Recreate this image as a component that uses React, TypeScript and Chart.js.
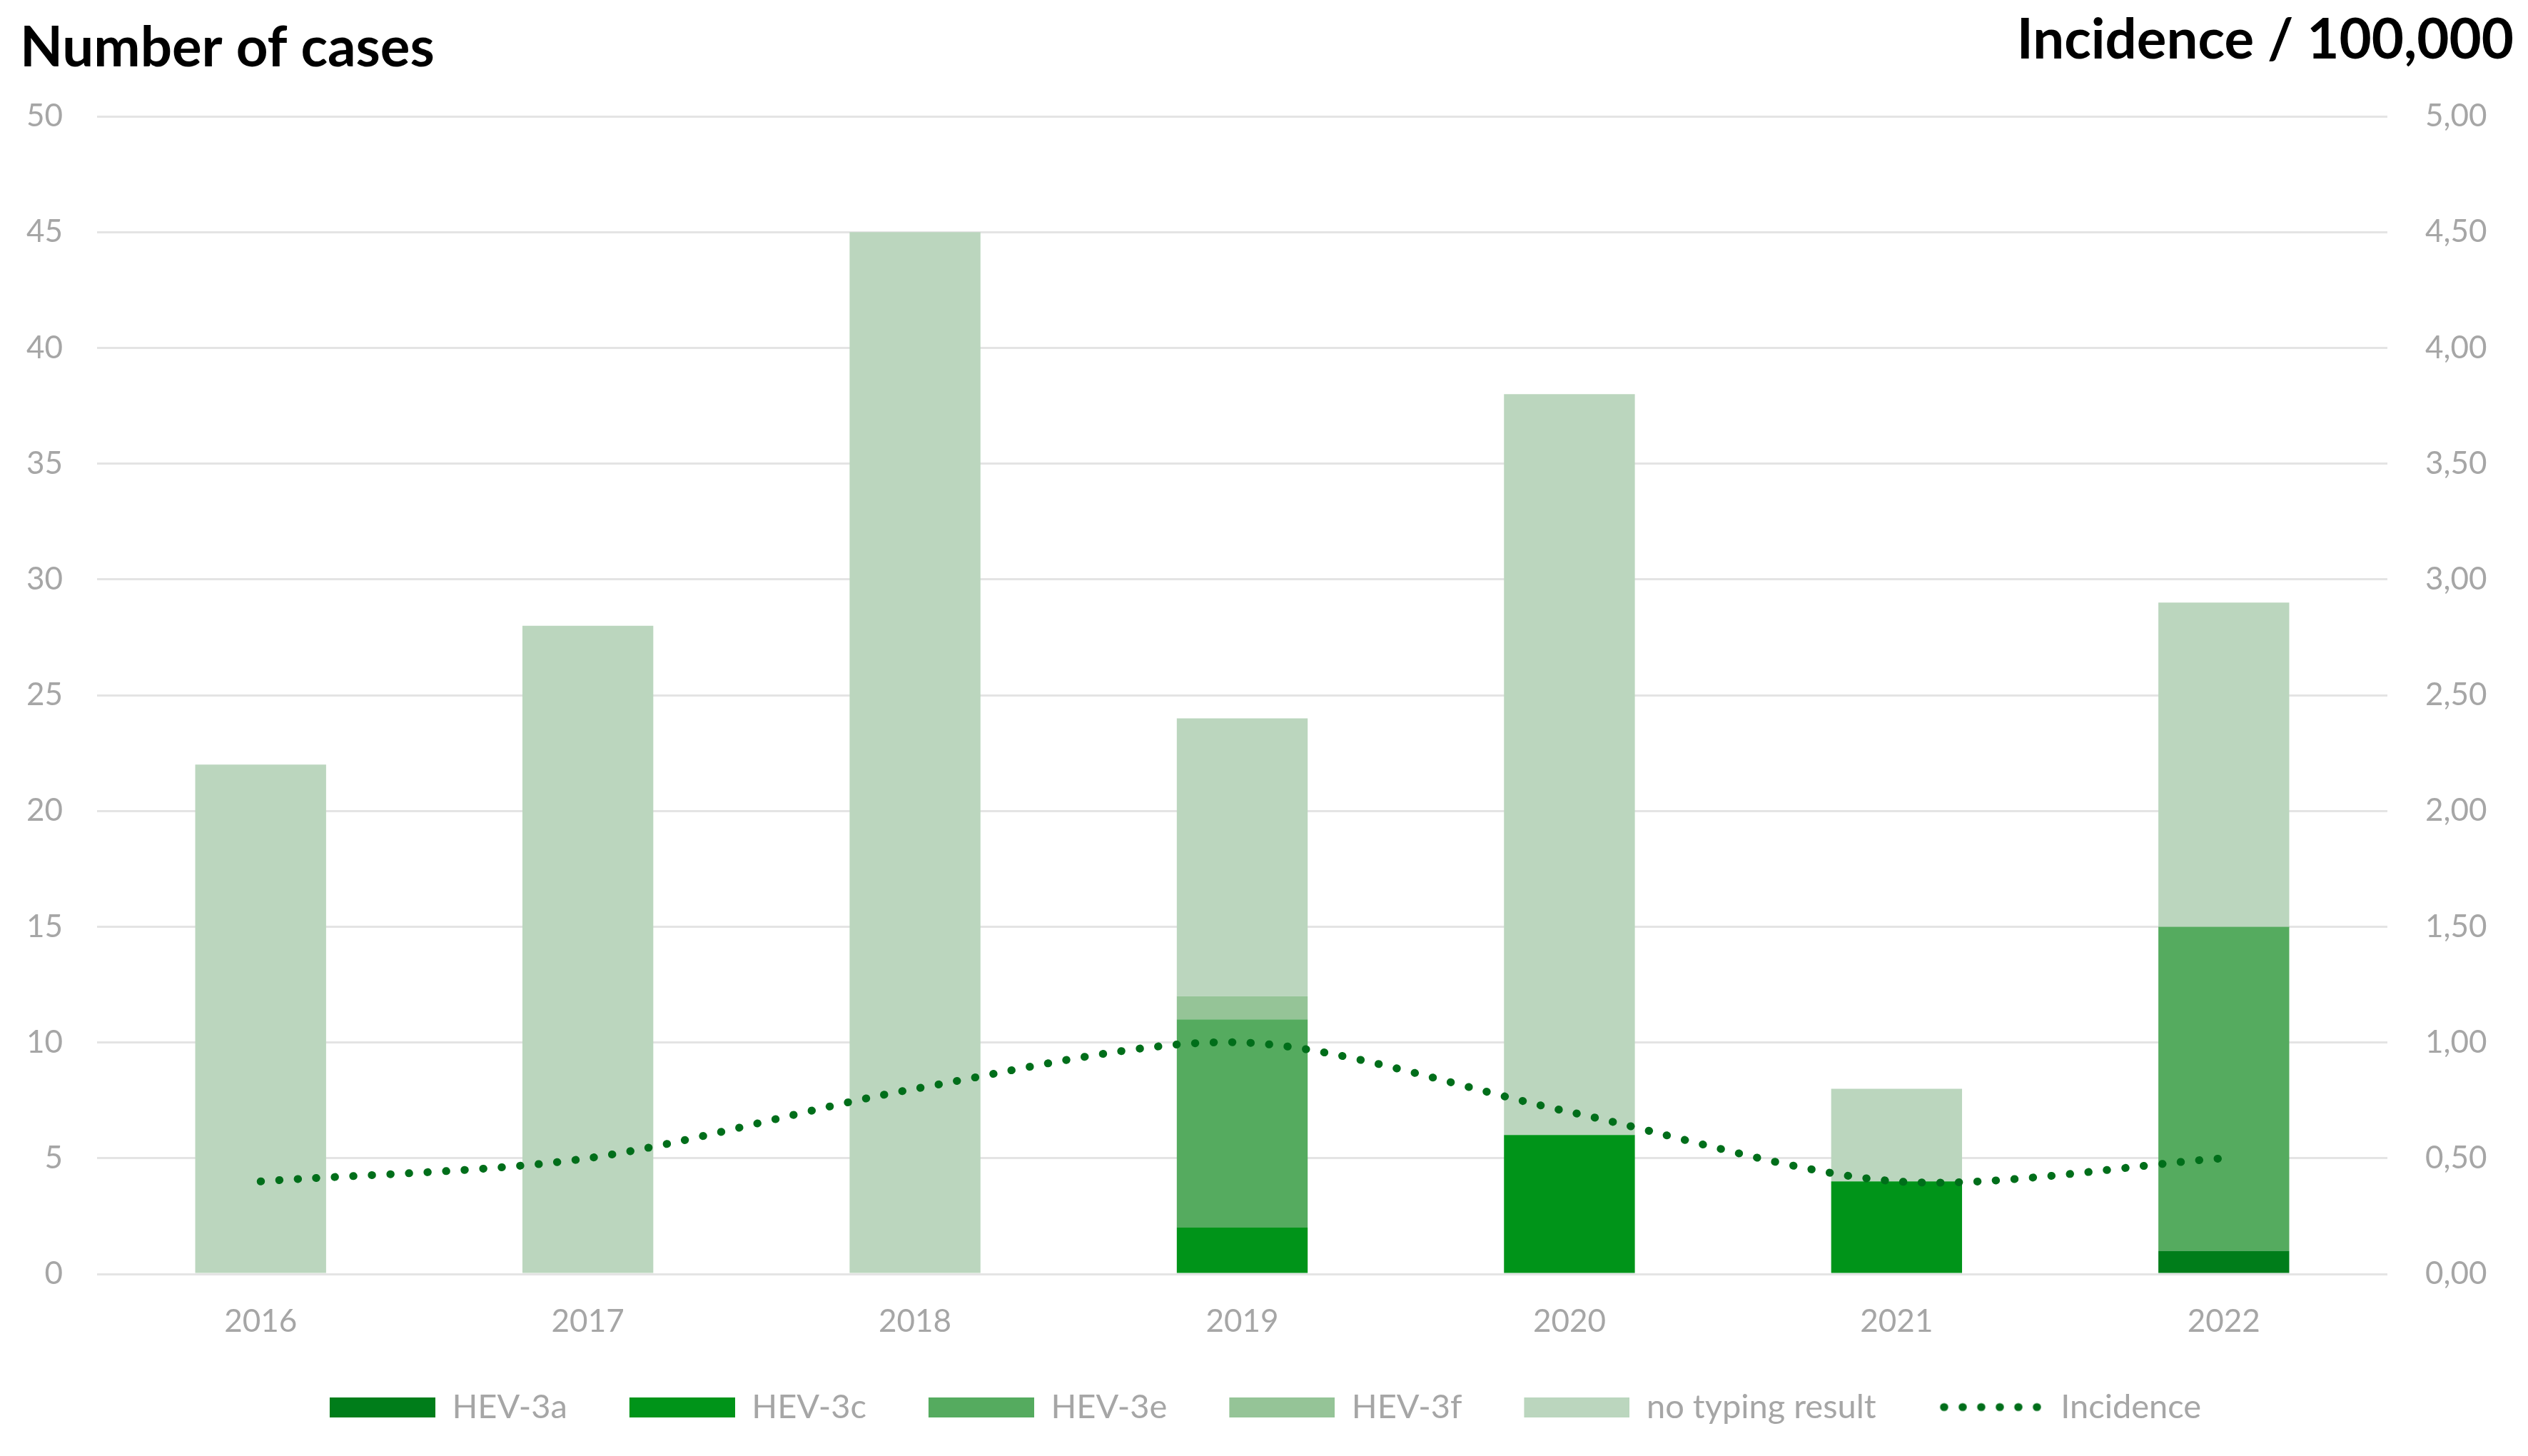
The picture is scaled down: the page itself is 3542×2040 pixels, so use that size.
import { useEffect, useRef } from 'react';
import { Chart, registerables } from 'chart.js';

Chart.register(...registerables);

const years = ['2016', '2017', '2018', '2019', '2020', '2021', '2022'];
const hev3a = [0, 0, 0, 0, 0, 0, 1];
const hev3c = [0, 0, 0, 2, 6, 4, 0];
const hev3e = [0, 0, 0, 9, 0, 0, 14];
const hev3f = [0, 0, 0, 1, 0, 0, 0];
const noTyping = [22, 28, 45, 12, 32, 4, 14];
const incidence = [0.4, 0.5, 0.8, 1.0, 0.7, 0.4, 0.5];

const seriesNames = ['HEV-3a', 'HEV-3c', 'HEV-3e', 'HEV-3f', 'no typing result', 'Incidence'];
const seriesColors = ['#007d1a', '#009419', '#55ab5f', '#95c497', '#bbd6be', '#006e1a'];

const leftTitle = 'Number of cases';
const rightTitle = 'Incidence / 100,000';

const W = 3542;
const H = 2040;
const tickColor = '#a6a6a6';
const fontFamily = 'Lato';

export default function App() {
  const ref = useRef<HTMLCanvasElement>(null);

  useEffect(() => {
    if (!ref.current) return;
    const boxW = 148;
    const gapM = 32;
    const iconW = boxW + gapM;
    const iconH = 28;
    const makeIcon = (i: number) => {
      const c = document.createElement('canvas');
      c.width = iconW;
      c.height = iconH;
      const g = c.getContext('2d')!;
      if (i < 5) {
        g.fillStyle = seriesColors[i];
        g.fillRect(gapM, 0, boxW, iconH);
      } else {
        g.strokeStyle = seriesColors[i];
        g.lineWidth = 11;
        g.lineCap = 'round';
        g.setLineDash([0.5, 25.5]);
        g.beginPath();
        g.moveTo(gapM + 8, iconH / 2);
        g.lineTo(iconW - 6, iconH / 2);
        g.stroke();
      }
      return c;
    };
    const icons = seriesNames.map((_, i) => makeIcon(i));

    const titlesPlugin = {
      id: 'sideTitles',
      afterDraw(chart: any) {
        const ctx = chart.ctx;
        ctx.save();
        ctx.fillStyle = '#000';
        ctx.font = `bold 78px ${fontFamily}`;
        ctx.textBaseline = 'alphabetic';
        ctx.textAlign = 'left';
        ctx.fillText(leftTitle, 28, 93);
        ctx.textAlign = 'right';
        ctx.fillText(rightTitle, 3522, 82);
        ctx.restore();
      },
    };

    const barSets = [hev3a, hev3c, hev3e, hev3f, noTyping].map((d, i) => ({
      type: 'bar' as const,
      label: seriesNames[i],
      data: d,
      backgroundColor: seriesColors[i],
      borderWidth: 0,
      yAxisID: 'y',
      barPercentage: 0.4,
      categoryPercentage: 1,
      order: 0,
    }));

    const legendPad = 55;
    const legendFont = 47;
    const legendH = legendFont + legendPad + 10;
    const padBottom = 35;
    const padRight = 28;
    const plotBottom = 1785;
    const plotRight = 3345;
    const xAxisH = H - padBottom - legendH - plotBottom;

    const chart = new Chart(ref.current, {
      type: 'bar',
      data: {
        labels: years,
        datasets: [
          ...barSets,
          {
            type: 'line' as const,
            label: seriesNames[5],
            data: incidence,
            borderColor: seriesColors[5],
            backgroundColor: seriesColors[5],
            borderWidth: 11,
            borderDash: [0.5, 25.5],
            borderCapStyle: 'round',
            pointRadius: 0,
            tension: 0.3,
            fill: false,
            yAxisID: 'y1',
            order: -1,
          } as any,
        ],
      },
      options: {
        animation: false,
        responsive: true,
        maintainAspectRatio: false,
        layout: { padding: { top: 163, bottom: padBottom, left: 0, right: padRight } },
        plugins: {
          title: { display: false },
          tooltip: { enabled: false },
          legend: {
            position: 'bottom',
            labels: {
              usePointStyle: true,
              pointStyleWidth: iconW,
              padding: legendPad,
              color: tickColor,
              font: { family: fontFamily, size: legendFont },
              sort: (a: any, b: any) => a.datasetIndex - b.datasetIndex,
              generateLabels: (ch: any) => {
                const items = (Chart.defaults.plugins.legend.labels as any).generateLabels(ch);
                return items.map((it: any) => ({ ...it, pointStyle: icons[it.datasetIndex] }));
              },
            },
          },
        },
        scales: {
          x: {
            stacked: true,
            grid: { display: false, drawTicks: false },
            border: { display: false },
            ticks: { color: tickColor, font: { family: fontFamily, size: 44 }, padding: 40 },
            afterFit: (s: any) => {
              s.height = xAxisH;
            },
          },
          y: {
            position: 'left',
            stacked: true,
            min: 0,
            max: 50,
            ticks: { stepSize: 5, color: tickColor, font: { family: fontFamily, size: 44 }, padding: 48 },
            grid: { color: '#e4e4e4', lineWidth: 3, drawTicks: false },
            border: { display: false },
            afterFit: (s: any) => {
              s.width = 136;
            },
          },
          y1: {
            position: 'right',
            stacked: false,
            min: 0,
            max: 5,
            ticks: {
              stepSize: 0.5,
              color: tickColor,
              font: { family: fontFamily, size: 44 },
              padding: 53,
              callback: (v: any) => Number(v).toFixed(2).replace('.', ','),
            },
            grid: { display: false, drawTicks: false },
            border: { display: false },
            afterFit: (s: any) => {
              s.width = W - padRight - plotRight;
            },
          },
        },
      },
      plugins: [titlesPlugin],
    });
    return () => chart.destroy();
  }, []);

  return (
    <div style={{ position: 'fixed', left: 0, top: 0, width: W, height: H, background: '#fff' }}>
      <canvas ref={ref} />
    </div>
  );
}
